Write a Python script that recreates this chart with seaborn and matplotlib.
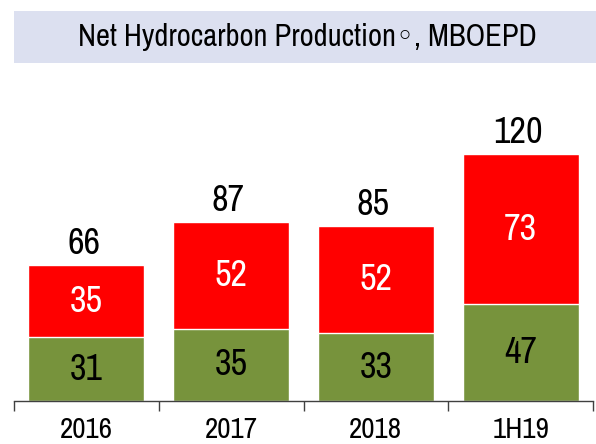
import matplotlib
matplotlib.use("Agg")
import matplotlib.pyplot as plt
import matplotlib.font_manager as fm
import seaborn as sns
import pandas as pd
from matplotlib.patches import Rectangle

years = ["2016", "2017", "2018", "1H19"]
green_vals = [31, 35, 33, 47]
red_vals = [35, 52, 52, 73]
totals = [g + r for g, r in zip(green_vals, red_vals)]

sns.set_style("white")

# the reference uses a condensed face; take one if any is installed
names = sorted({f.name for f in fm.fontManager.ttflist})
narrow = [n for n in names if "Narrow" in n or "Condensed" in n]
plt.rcParams["font.family"] = narrow[:1] + ["Roboto", "DejaVu Sans"]
k = 1.0 if narrow else 0.88

df = pd.DataFrame({"year": years, "green": green_vals, "red": red_vals, "total": totals})

fig = plt.figure(figsize=(5.96, 4.44), dpi=100)
ax = fig.add_axes([14 / 596, 43 / 444, 579 / 596, 326 / 444])

# red = whole stack, green drawn over the bottom part
sns.barplot(data=df, x="year", y="total", color="#ff0000", saturation=1,
            width=0.8, ax=ax)
sns.barplot(data=df, x="year", y="green", color="#77933c", saturation=1,
            width=0.8, ax=ax)

for i in range(len(years)):
    g, r, t = green_vals[i], red_vals[i], totals[i]
    ax.text(i, g / 2, str(g), ha="center", va="center", fontsize=26 * k, color="black")
    ax.text(i, g + r / 2, str(r), ha="center", va="center", fontsize=26 * k, color="white")
    ax.annotate(str(t), (i, t), xytext=(-2, 8), textcoords="offset points",
                ha="center", va="baseline", fontsize=26 * k, color="black")

ax.set_xlim(-0.5, 3.5)
ax.set_ylim(0, 158.4)
ax.set_xlabel("")
ax.set_ylabel("")
ax.set_yticks([])
sns.despine(ax=ax, left=True)
ax.spines["bottom"].set_color("#404040")
ax.spines["bottom"].set_linewidth(1)
ax.set_xticks([-0.5, 0.5, 1.5, 2.5, 3.5], minor=True)
ax.tick_params(axis="x", which="major", length=0, labelsize=21 * k, pad=11, colors="black")
ax.tick_params(axis="x", which="minor", length=7, width=1, color="#404040", bottom=True)

# title box
fig.patches.append(Rectangle((14 / 596, 1 - 63 / 444), 582 / 596, 52 / 444,
                             transform=fig.transFigure, facecolor="#dce0f0",
                             edgecolor="none", zorder=0))
fig.text(307 / 596, 1 - 37 / 444, "Net Hydrocarbon Production\u25e6, MBOEPD",
         ha="center", va="center", fontsize=22 * k, color="black")

fig.savefig("out.png", dpi=100)
